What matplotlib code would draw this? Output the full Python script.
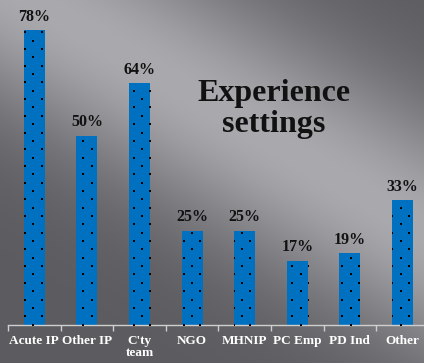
import numpy as np
import matplotlib
matplotlib.use("Agg")
import matplotlib.pyplot as plt
from matplotlib.transforms import IdentityTransform

categories = ["Acute IP", "Other IP", "C'ty\nteam", "NGO", "MHNIP", "PC Emp", "PD Ind", "Other"]
values = [78, 50, 64, 25, 25, 17, 19, 33]
value_labels = ["78%", "50%", "64%", "25%", "25%", "17%", "19%", "33%"]
title = "Experience\nsettings"

W, H = 424, 363
fig = plt.figure(figsize=(W / 100, H / 100), dpi=100)

# gray slide background with a lighter diagonal streak
bg = fig.add_axes([0, 0, 1, 1])
yy, xx = np.mgrid[0:H, 0:W]
dx, dy = 424.0, 250.0
d = np.abs(dy * xx - dx * (yy + 20)) / np.hypot(dx, dy)
shade = 92 + 78 * np.exp(-(d / 110.0) ** 2)
img = np.dstack([shade, shade, shade + 4]) / 255.0
bg.imshow(np.clip(img, 0, 1), aspect="auto", extent=[0, 1, 0, 1])
bg.axis("off")

ax = fig.add_axes([8 / W, 1 - 325 / H, (W - 8) / W, 325 / H])
ax.patch.set_alpha(0)
x = np.arange(len(categories))
bars = ax.bar(x, values, width=0.40, color="#0070C0", linewidth=0)
ax.set_xlim(-0.5, 7.41)
ax.set_ylim(0, 86)

# small-dot pattern fill (staggered grid in pixel space, clipped to each bar)
step = 8.35
pts = []
for r, yp in enumerate(np.arange(32.3, H, step)):
    off = 0 if r % 2 == 0 else step
    for xp in np.arange(25 + off, W, 2 * step):
        pts.append((xp, H - yp))
pts = np.array(pts)
for b in bars:
    sc = ax.scatter(pts[:, 0], pts[:, 1], s=3.5, marker="s", color="black",
                    linewidths=0, transform=IdentityTransform(), zorder=3)
    sc.set_clip_path(b)

for b, lab in zip(bars, value_labels):
    ax.annotate(lab, (b.get_x() + b.get_width() / 2, b.get_height()),
                xytext=(0, 4), textcoords="offset points", ha="center", va="bottom",
                fontsize=11.5, fontweight="bold", family="Liberation Serif", color="#111111")

ax.set_xticks(x)
ax.set_xticklabels(categories, fontsize=9.5, fontweight="bold", family="Liberation Serif",
                   color="white", linespacing=1.0)
ax.set_xticks(list(x - 0.5), minor=True)
ax.tick_params(axis="x", which="major", length=0, pad=7)
ax.tick_params(axis="x", which="minor", length=4, color="#cfcfcf", width=1)
ax.set_yticks([])
for s in ["top", "right", "left"]:
    ax.spines[s].set_visible(False)
ax.spines["bottom"].set_color("#cfcfcf")
ax.spines["bottom"].set_linewidth(1)

fig.text(274 / W, 1 - 109 / H, title, ha="center", va="center", fontsize=23,
         fontweight="bold", family="Liberation Serif", color="#111111", linespacing=1.1)

fig.savefig("out.png", dpi=100)
